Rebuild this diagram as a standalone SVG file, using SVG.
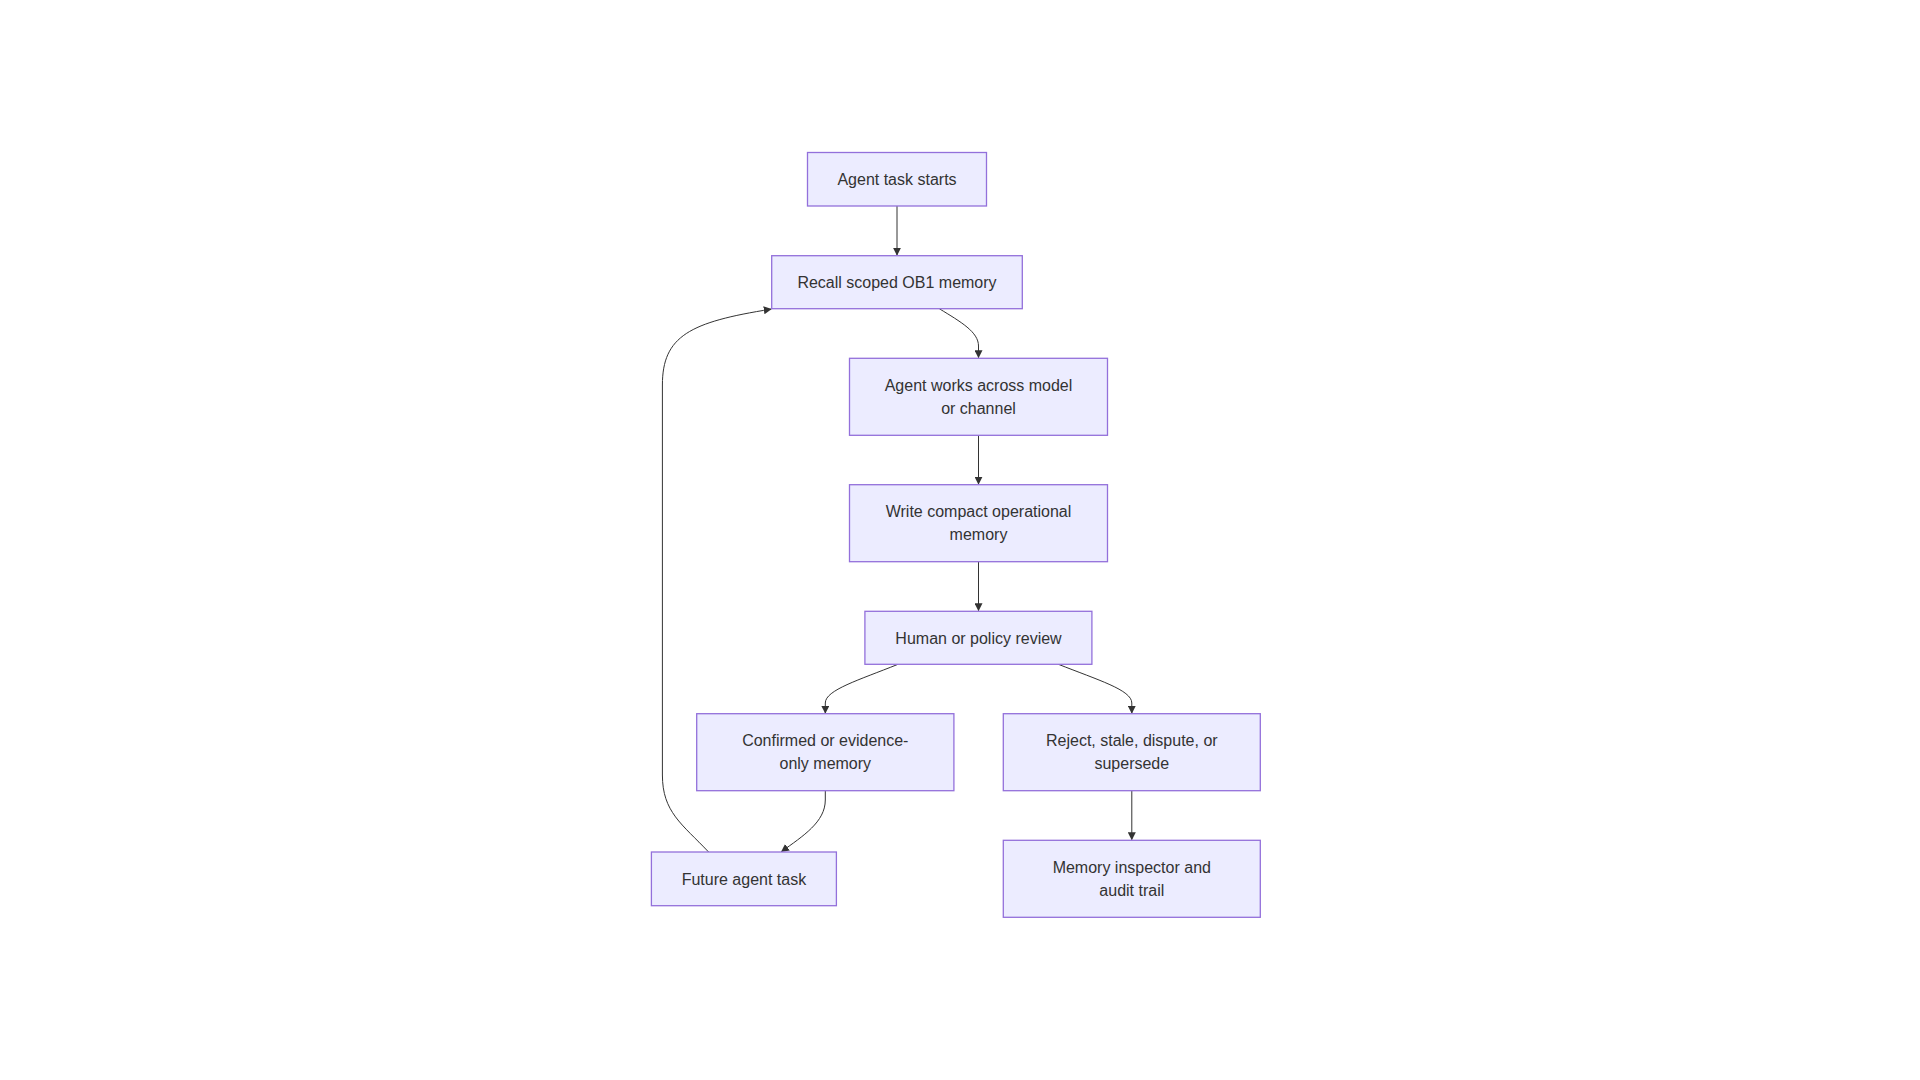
<svg xmlns="http://www.w3.org/2000/svg" width="1920" height="1080" viewBox="0 0 1920 1080">
<style>
.node rect{fill:#ECECFF;stroke:#9370DB;stroke-width:1.3px;}
.node text{font-family:"Liberation Sans",Arial,sans-serif;font-size:16px;fill:#333333;text-anchor:middle;}
.edge{fill:none;stroke:#333333;stroke-width:1px;}
</style>
<defs>
<marker id="arrow" viewBox="0 0 10 10" refX="9" refY="5" markerWidth="8" markerHeight="8" orient="auto" markerUnits="userSpaceOnUse">
<path d="M0,0 L10,5 L0,10 z" fill="#333333"/>
</marker>
</defs>
<rect width="1920" height="1080" fill="#ffffff"/>
<g id="connectors">
<path class="edge" d="M897,206 L897,255" marker-end="url(#arrow)"/>
<path class="edge" d="M939.3,308.7 C961,322 978.5,332 978.5,346 L978.5,357.5" marker-end="url(#arrow)"/>
<path class="edge" d="M978.5,435.3 L978.5,484" marker-end="url(#arrow)"/>
<path class="edge" d="M978.5,561.7 L978.5,610.5" marker-end="url(#arrow)"/>
<path class="edge" d="M898,664.3 C859,680 825.3,690 825.3,703 L825.3,713" marker-end="url(#arrow)"/>
<path class="edge" d="M1058.4,664.3 C1098,680 1131.8,690 1131.8,703 L1131.8,713" marker-end="url(#arrow)"/>
<path class="edge" d="M825.3,791 L825.3,800 C825.3,822 803,836 781.6,851.5" marker-end="url(#arrow)"/>
<path class="edge" d="M1131.8,791 L1131.8,839.5" marker-end="url(#arrow)"/>
<path class="edge" d="M708.6,852 C682,824 662.4,812 662.4,775 L662.4,385 C662.4,336 690,322 771,309.2" marker-end="url(#arrow)"/>
</g>
<g id="n1" class="node"><rect x="807.5" y="152.5" width="179" height="53.5"/><text x="897" y="185">Agent task starts</text></g>
<g id="n2" class="node"><rect x="771.7" y="255.7" width="250.6" height="53"/><text x="897" y="288">Recall scoped OB1 memory</text></g>
<g id="n3" class="node"><rect x="849.5" y="358.3" width="258" height="77"/><text x="978.5" y="390.7">Agent works across model</text><text x="978.5" y="414">or channel</text></g>
<g id="n4" class="node"><rect x="849.5" y="484.7" width="258" height="77"/><text x="978.5" y="517.1">Write compact operational</text><text x="978.5" y="540.4">memory</text></g>
<g id="n5" class="node"><rect x="864.9" y="611.3" width="227" height="53"/><text x="978.5" y="643.6">Human or policy review</text></g>
<g id="n6" class="node"><rect x="696.7" y="713.7" width="257.2" height="77"/><text x="825.3" y="746.1">Confirmed or evidence-</text><text x="825.3" y="769.4">only memory</text></g>
<g id="n7" class="node"><rect x="1003.3" y="713.7" width="257" height="77"/><text x="1131.8" y="746.1">Reject, stale, dispute, or</text><text x="1131.8" y="769.4">supersede</text></g>
<g id="n8" class="node"><rect x="651.4" y="852" width="185" height="53.7"/><text x="743.9" y="884.5">Future agent task</text></g>
<g id="n9" class="node"><rect x="1003.3" y="840.3" width="257" height="77"/><text x="1131.8" y="872.7">Memory inspector and</text><text x="1131.8" y="896">audit trail</text></g>
</svg>
